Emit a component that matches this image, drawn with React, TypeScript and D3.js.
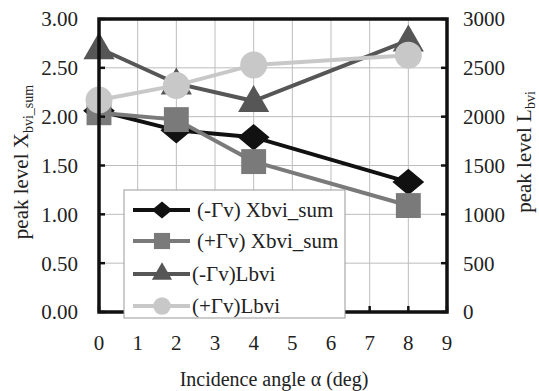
import React from 'react'
import * as d3 from 'd3'

const angles = [0, 2, 4, 8]
const xbviMinus = [2.06, 1.86, 1.79, 1.33]
const xbviPlus = [2.04, 1.97, 1.54, 1.09]
const lbviMinus = [2700, 2340, 2160, 2780]
const lbviPlus = [2170, 2320, 2530, 2630]

const xTicks = [0, 1, 2, 3, 4, 5, 6, 7, 8, 9]
const leftTicks = [0, 0.5, 1, 1.5, 2, 2.5, 3]
const rightTicks = [0, 500, 1000, 1500, 2000, 2500, 3000]

const width = 539
const height = 391
const margin = { top: 19, right: 92, bottom: 79, left: 99 }

const font = 'Liberation Serif'

const x = d3.scaleLinear().domain([0, 9]).range([margin.left, width - margin.right])
const yLeft = d3.scaleLinear().domain([0, 3]).range([height - margin.bottom, margin.top])
const yRight = d3.scaleLinear().domain([0, 3000]).range([height - margin.bottom, margin.top])

// wide diamond, like the spreadsheet marker
const wideDiamond: d3.SymbolType = {
  draw(ctx, size) {
    const h = Math.sqrt(size / 2.4)
    const w = h * 1.2
    ctx.moveTo(0, -h)
    ctx.lineTo(w, 0)
    ctx.lineTo(0, h)
    ctx.lineTo(-w, 0)
    ctx.closePath()
  }
}

const series = [
  { name: '(-Γv) Xbvi_sum', values: xbviMinus, y: yLeft, color: '#111111', symbol: wideDiamond, size: 420 },
  { name: '(+Γv) Xbvi_sum', values: xbviPlus, y: yLeft, color: '#7a7a7a', symbol: d3.symbolSquare, size: 620 },
  { name: '(-Γv)Lbvi', values: lbviMinus, y: yRight, color: '#565656', symbol: d3.symbolTriangle, size: 420 },
  { name: '(+Γv)Lbvi', values: lbviPlus, y: yRight, color: '#c8c8c8', symbol: d3.symbolCircle, size: 570 }
]
const legendRows = [210, 241, 274, 306]
const legendTextX = [197, 197, 192, 192]

export default function App() {
  const x0 = x(0), x1 = x(9)
  const yTop = yLeft(3), yBot = yLeft(0)
  const line = d3.line<[number, number]>()

  return (
    <svg width={width} height={height} style={{ position: 'absolute', left: 0, top: 0, background: '#fff' }}>
      {/* grid */}
      {xTicks.map(t => (
        <line key={'gx' + t} x1={x(t)} x2={x(t)} y1={yTop} y2={yBot} stroke="#bdbdbd" strokeWidth={1} />
      ))}
      {leftTicks.map(t => (
        <line key={'gy' + t} x1={x0} x2={x1} y1={yLeft(t)} y2={yLeft(t)} stroke="#bdbdbd" strokeWidth={1} />
      ))}

      {/* series */}
      {series.map(s => {
        const pts = angles.map((a, i) => [x(a), s.y(s.values[i])] as [number, number])
        const sym = d3.symbol().type(s.symbol).size(s.size)()
        return (
          <g key={s.name}>
            <path d={line(pts) || ''} fill="none" stroke={s.color} strokeWidth={4} />
            {pts.map((p, i) => (
              <path key={i} d={sym || ''} transform={`translate(${p[0]},${p[1] + (s.symbol === d3.symbolTriangle ? 2 : 0)})`} fill={s.color} />
            ))}
          </g>
        )
      })}

      {/* ticks */}
      {leftTicks.map(t => (
        <line key={'lt' + t} x1={x0} x2={x0 + 6} y1={yLeft(t)} y2={yLeft(t)} stroke="#111" strokeWidth={2.5} />
      ))}
      {rightTicks.map(t => (
        <line key={'rt' + t} x1={x1 - 6} x2={x1} y1={yRight(t)} y2={yRight(t)} stroke="#111" strokeWidth={2.5} />
      ))}
      {xTicks.map(t => (
        <line key={'bt' + t} x1={x(t)} x2={x(t)} y1={yBot} y2={yBot - 6} stroke="#111" strokeWidth={2.5} />
      ))}

      {/* frame */}
      <rect x={x0} y={yTop} width={x1 - x0} height={yBot - yTop} fill="none" stroke="#111" strokeWidth={3.5} />

      {/* legend */}
      <g>
        <rect x={124} y={190} width={221} height={128} fill="#fff" stroke="#999" strokeWidth={1} />
        {series.map((s, i) => {
          const ly = legendRows[i]
          const sym = d3.symbol().type(s.symbol).size(s.size * 0.42)()
          return (
            <g key={'lg' + i}>
              <line x1={133} x2={190} y1={ly} y2={ly} stroke={s.color} strokeWidth={4} />
              <path d={sym || ''} transform={`translate(162,${ly})`} fill={s.color} />
              <text x={legendTextX[i]} y={ly} dy="0.35em" fontSize={21} fontFamily={font} fill="#222">{s.name}</text>
            </g>
          )
        })}
      </g>

      {/* axis labels */}
      {leftTicks.map(t => (
        <text key={'ll' + t} x={78} y={yLeft(t)} dy="0.35em" textAnchor="end" fontSize={21} fontFamily={font} fill="#222">
          {d3.format('.2f')(t)}
        </text>
      ))}
      {rightTicks.map(t => (
        <text key={'rl' + t} x={463} y={yRight(t)} dy="0.35em" textAnchor="start" fontSize={21} fontFamily={font} fill="#222">
          {t}
        </text>
      ))}
      {xTicks.map(t => (
        <text key={'xl' + t} x={x(t)} y={343} dy="0.35em" textAnchor="middle" fontSize={21} fontFamily={font} fill="#222">
          {t}
        </text>
      ))}

      <text x={274} y={379} dy="0.35em" textAnchor="middle" fontSize={20} fontFamily={font} fill="#222">
        Incidence angle α (deg)
      </text>
      <text transform="translate(28,162) rotate(-90)" textAnchor="middle" fontSize={21} fontFamily={font} fill="#222">
        peak level X<tspan fontSize={14} dy="5">bvi_sum</tspan>
      </text>
      <text transform="translate(531,152) rotate(-90)" textAnchor="middle" fontSize={21} fontFamily={font} fill="#222">
        peak level L<tspan fontSize={14} dy="4">bvi</tspan>
      </text>
    </svg>
  )
}
